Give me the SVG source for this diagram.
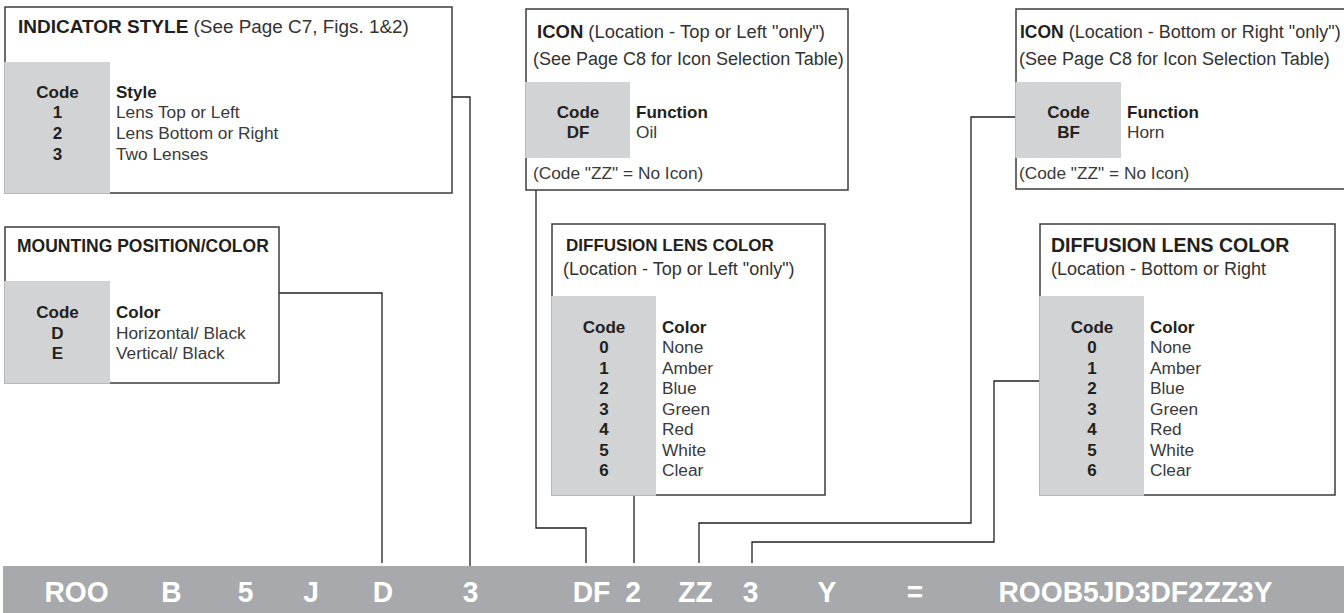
<svg xmlns="http://www.w3.org/2000/svg" width="1344" height="613" viewBox="0 0 1344 613">
<style>
  .frame{fill:#ffffff;stroke:#3c3c3c;stroke-width:1.5}
  .cell{fill:#d1d3d4}
  .wire{fill:none;stroke:#231f20;stroke-width:1.3}
  text{font-family:"Liberation Sans",Arial,Helvetica,sans-serif;fill:#231f20}
  .ttl{font-size:17.5px;font-weight:bold}
  .sub{font-size:18px;font-weight:normal;fill:#333333}
  .body{font-size:17.3px;fill:#3a3a3a}
  .hd{font-size:17px;font-weight:bold;fill:#231f20}
  .code{font-size:17px;font-weight:bold;text-anchor:middle}
  .barT{font-size:30px;font-weight:bold;fill:#ffffff;text-anchor:middle}
</style>
<rect width="1344" height="613" fill="#ffffff"/>

<g id="connectors">
  <polyline class="wire" points="452,97 470,97 470,569"/>
  <polyline class="wire" points="279,293 382,293 382,563"/>
  <polyline class="wire" points="536,190 536,528 586,528 586,563"/>
  <polyline class="wire" points="634,495 634,563"/>
  <polyline class="wire" points="1016,117 971,117 971,523 699,523 699,563"/>
  <polyline class="wire" points="1040,381 994,381 994,542 752,542 752,563"/>
</g>

<g id="indicator-style">
  <rect class="frame" x="5" y="7" width="447" height="186"/>
  <rect class="cell" x="4.25" y="62" width="105.75" height="131.75"/>
  <text x="18" y="33"><tspan class="ttl" style="font-size:19px">INDICATOR STYLE</tspan><tspan class="sub" style="font-size:18.9px"> (See Page C7, Figs. 1&amp;2)</tspan></text>
  <text class="code" x="57.5" y="98">Code</text>
  <text class="code" x="57.5" y="118">1</text>
  <text class="code" x="57.5" y="139">2</text>
  <text class="code" x="57.5" y="160">3</text>
  <text class="hd" x="116" y="98">Style</text>
  <text class="body" x="116" y="118">Lens Top or Left</text>
  <text class="body" x="116" y="139">Lens Bottom or Right</text>
  <text class="body" x="116" y="160">Two Lenses</text>
</g>

<g id="mounting-position">
  <rect class="frame" x="5" y="227" width="274" height="156"/>
  <rect class="cell" x="4.25" y="281" width="105.75" height="102.75"/>
  <text class="ttl" x="17" y="252">MOUNTING POSITION/COLOR</text>
  <text class="code" x="57.5" y="318">Code</text>
  <text class="code" x="57.5" y="339">D</text>
  <text class="code" x="57.5" y="359">E</text>
  <text class="hd" x="116" y="318">Color</text>
  <text class="body" x="116" y="339">Horizontal/ Black</text>
  <text class="body" x="116" y="359">Vertical/ Black</text>
</g>

<g id="icon-top-left">
  <rect class="frame" x="526" y="9" width="322" height="181"/>
  <rect class="cell" x="525.25" y="82" width="104.75" height="76"/>
  <text x="537" y="38"><tspan class="ttl" style="font-size:18.5px">ICON</tspan><tspan class="sub" style="font-size:18.4px"> (Location - Top or Left "only")</tspan></text>
  <text class="sub" x="533" y="65">(See Page C8 for Icon Selection Table)</text>
  <text class="code" x="578" y="118">Code</text>
  <text class="code" x="578" y="138">DF</text>
  <text class="hd" x="636" y="118">Function</text>
  <text class="body" x="636" y="138">Oil</text>
  <text class="body" x="533" y="179">(Code "ZZ" = No Icon)</text>
</g>

<g id="icon-bottom-right">
  <rect class="frame" x="1016" y="9" width="340" height="180"/>
  <rect class="cell" x="1015.25" y="82" width="105.75" height="76"/>
  <text x="1020" y="38"><tspan class="ttl">ICON</tspan><tspan class="sub"> (Location - Bottom or Right "only")</tspan></text>
  <text class="sub" x="1019" y="65">(See Page C8 for Icon Selection Table)</text>
  <text class="code" x="1068.5" y="118">Code</text>
  <text class="code" x="1068.5" y="138">BF</text>
  <text class="hd" x="1127" y="118">Function</text>
  <text class="body" x="1127" y="138">Horn</text>
  <text class="body" x="1019" y="179">(Code "ZZ" = No Icon)</text>
</g>

<g id="diffusion-top-left">
  <rect class="frame" x="552" y="224" width="273" height="271"/>
  <rect class="cell" x="551.25" y="296" width="104.75" height="199.75"/>
  <text class="ttl" x="566" y="251" style="font-size:17px">DIFFUSION LENS COLOR</text>
  <text class="sub" x="563" y="275">(Location - Top or Left "only")</text>
  <text class="code" x="604" y="333">Code</text>
  <text class="code" x="604" y="353">0</text>
  <text class="code" x="604" y="374">1</text>
  <text class="code" x="604" y="394">2</text>
  <text class="code" x="604" y="415">3</text>
  <text class="code" x="604" y="435">4</text>
  <text class="code" x="604" y="456">5</text>
  <text class="code" x="604" y="476">6</text>
  <text class="hd" x="662" y="333">Color</text>
  <text class="body" x="662" y="353">None</text>
  <text class="body" x="662" y="374">Amber</text>
  <text class="body" x="662" y="394">Blue</text>
  <text class="body" x="662" y="415">Green</text>
  <text class="body" x="662" y="435">Red</text>
  <text class="body" x="662" y="456">White</text>
  <text class="body" x="662" y="476">Clear</text>
</g>

<g id="diffusion-bottom-right">
  <rect class="frame" x="1040" y="224" width="295" height="271"/>
  <rect class="cell" x="1039.25" y="296" width="104.75" height="199.75"/>
  <text class="ttl" x="1051" y="252" style="font-size:19.5px">DIFFUSION LENS COLOR</text>
  <text class="sub" x="1051" y="275">(Location - Bottom or Right</text>
  <text class="code" x="1092" y="333">Code</text>
  <text class="code" x="1092" y="353">0</text>
  <text class="code" x="1092" y="374">1</text>
  <text class="code" x="1092" y="394">2</text>
  <text class="code" x="1092" y="415">3</text>
  <text class="code" x="1092" y="435">4</text>
  <text class="code" x="1092" y="456">5</text>
  <text class="code" x="1092" y="476">6</text>
  <text class="hd" x="1150" y="333">Color</text>
  <text class="body" x="1150" y="353">None</text>
  <text class="body" x="1150" y="374">Amber</text>
  <text class="body" x="1150" y="394">Blue</text>
  <text class="body" x="1150" y="415">Green</text>
  <text class="body" x="1150" y="435">Red</text>
  <text class="body" x="1150" y="456">White</text>
  <text class="body" x="1150" y="476">Clear</text>
</g>

<g id="part-number-bar">
  <rect x="3" y="566" width="1341" height="47" fill="#a7a9ac"/>
  <text class="barT" transform="translate(76.5 602) scale(0.94 1)">ROO</text>
  <text class="barT" transform="translate(171.5 602) scale(0.94 1)">B</text>
  <text class="barT" transform="translate(245.5 602) scale(0.94 1)">5</text>
  <text class="barT" transform="translate(311 602) scale(0.94 1)">J</text>
  <text class="barT" transform="translate(383 602) scale(0.94 1)">D</text>
  <text class="barT" transform="translate(470.5 602) scale(0.94 1)">3</text>
  <text class="barT" transform="translate(591.5 602) scale(0.94 1)">DF</text>
  <text class="barT" transform="translate(633 602) scale(0.94 1)">2</text>
  <text class="barT" transform="translate(695.5 602) scale(0.94 1)">ZZ</text>
  <text class="barT" transform="translate(750.5 602) scale(0.94 1)">3</text>
  <text class="barT" transform="translate(827 602) scale(0.94 1)">Y</text>
  <text class="barT" transform="translate(915 602) scale(0.94 1)">=</text>
  <text class="barT" transform="translate(1135.5 602) scale(0.94 1)">ROOB5JD3DF2ZZ3Y</text>
</g>
</svg>
